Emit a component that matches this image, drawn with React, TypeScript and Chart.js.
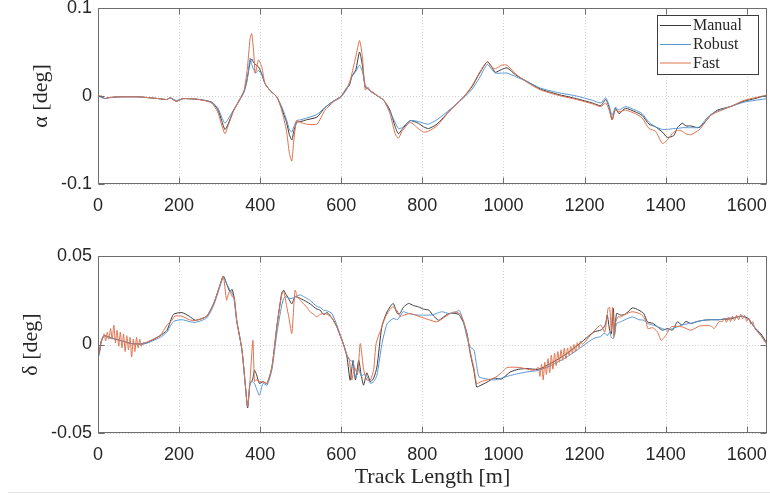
import React, { useEffect, useRef } from "react";
import { Chart, registerables } from "chart.js";
Chart.register(...registerables);

const SERIES_LABELS = ["Manual", "Robust", "Fast"];
const SERIES_COLORS = ["#3a3a3a", "#5696d6", "#e0704c"];
const X_TICKS = [0, 200, 400, 600, 800, 1000, 1200, 1400, 1600];
const ALPHA_TICKS = [-0.1, 0, 0.1];
const DELTA_TICKS = [-0.05, 0, 0.05];
const X_TITLE = "Track Length [m]";
const ALPHA_TITLE = "α [deg]";
const DELTA_TITLE = "δ [deg]";

// ---- top panel: alpha ----
const ALPHA_X = [
  0, 10, 17, 25, 50, 100, 150, 170, 178, 193,
  210, 250, 280, 295, 305, 313, 320, 334, 350, 360,
  368, 375, 379, 384, 388, 396, 404, 412, 425, 441,
  453, 465, 472, 478, 483, 490, 500, 515, 540, 560,
  580, 598, 614, 620, 626, 636, 645, 652, 659, 666,
  672, 690, 705, 720, 733, 741, 750, 770, 790, 803,
  815, 836, 869, 902, 923, 940, 960, 970, 980, 995,
  1009, 1030, 1060, 1091, 1133, 1180, 1220, 1240, 1252, 1260,
  1268, 1276, 1285, 1301, 1325, 1342, 1359, 1375, 1392, 1404,
  1420, 1429, 1441, 1450, 1462, 1478, 1486, 1500, 1511, 1528,
  1560, 1593, 1620, 1650,
];
const ALPHA_MANUAL = [
  0, -0.001, -0.003, -0.002, -0.001, -0.001, -0.003, -0.004, -0.002, -0.006,
  -0.003, -0.004, -0.007, -0.015, -0.028, -0.038, -0.033, -0.017, -0.004, 0.005,
  0.02, 0.038, 0.042, 0.038, 0.036, 0.033, 0.025, 0.014, 0.006, -0.001,
  -0.014, -0.03, -0.044, -0.05, -0.04, -0.03, -0.029, -0.027, -0.024, -0.013,
  -0.006, -0.001, 0.009, 0.012, 0.022, 0.03, 0.05, 0.035, 0.01, 0.008,
  0.006, 0.0, -0.005, -0.016, -0.035, -0.043, -0.038, -0.028, -0.031, -0.035,
  -0.037, -0.032, -0.016, -0.001, 0.011, 0.025, 0.039, 0.034, 0.027, 0.03,
  0.032, 0.024, 0.016, 0.008, 0.002, -0.003, -0.008, -0.011, -0.004, -0.012,
  -0.027, -0.014, -0.02, -0.014, -0.018, -0.022, -0.032, -0.035, -0.041, -0.047,
  -0.045, -0.036, -0.031, -0.034, -0.034, -0.036, -0.035, -0.028, -0.022, -0.016,
  -0.012, -0.006, -0.003, 0.001,
];
const ALPHA_ROBUST = [
  0, -0.002, -0.003, -0.002, -0.001, -0.001, -0.003, -0.004, -0.002, -0.005,
  -0.003, -0.004, -0.007, -0.013, -0.024, -0.031, -0.027, -0.016, -0.004, 0.004,
  0.018, 0.043, 0.036, 0.03, 0.026, 0.029, 0.024, 0.014, 0.006, -0.001,
  -0.012, -0.027, -0.038, -0.041, -0.035, -0.028, -0.027, -0.025, -0.021, -0.013,
  -0.006, -0.002, 0.008, 0.015, 0.022, 0.028, 0.035, 0.028, 0.013, 0.008,
  0.005, 0.0, -0.005, -0.018, -0.03, -0.037, -0.036, -0.028, -0.029, -0.031,
  -0.032, -0.027, -0.015, -0.002, 0.008, 0.02, 0.036, 0.031, 0.026, 0.026,
  0.026, 0.022, 0.016, 0.009, 0.004, 0.0, -0.005, -0.008, -0.002, -0.01,
  -0.022, -0.013, -0.016, -0.012, -0.016, -0.02, -0.03, -0.035, -0.038, -0.038,
  -0.037, -0.037, -0.036, -0.036, -0.036, -0.036, -0.034, -0.026, -0.021, -0.017,
  -0.012, -0.007, -0.005, -0.003,
];
const ALPHA_FAST = [
  0, 0.0, -0.003, -0.002, -0.001, -0.001, -0.003, -0.004, -0.002, -0.006,
  -0.003, -0.004, -0.008, -0.018, -0.033, -0.043, -0.035, -0.017, -0.003, 0.006,
  0.03, 0.065, 0.071, 0.05, 0.026, 0.041, 0.033, 0.014, 0.006, -0.001,
  -0.016, -0.04, -0.065, -0.074, -0.05, -0.028, -0.03, -0.032, -0.032, -0.016,
  -0.007, -0.001, 0.01, 0.014, 0.025, 0.045, 0.063, 0.045, 0.007, 0.01,
  0.006, 0.0, -0.005, -0.02, -0.043, -0.048, -0.04, -0.03, -0.037, -0.041,
  -0.04, -0.034, -0.016, -0.001, 0.012, 0.026, 0.039, 0.033, 0.031, 0.035,
  0.035, 0.025, 0.015, 0.007, 0.001, -0.004, -0.009, -0.012, -0.008, -0.015,
  -0.027, -0.016, -0.018, -0.016, -0.02, -0.025, -0.037, -0.04, -0.054, -0.05,
  -0.041, -0.039, -0.04, -0.043, -0.044, -0.04, -0.037, -0.028, -0.022, -0.018,
  -0.012, -0.005, -0.002, 0.001,
];

// ---- bottom panel: delta ----
const DELTA_X = [
  0, 3, 8, 15, 27, 52, 83, 116, 153, 170,
  186, 207, 225, 240, 268, 285, 300, 309, 317, 325,
  331, 336, 342, 355, 363, 369, 375, 381, 386, 391,
  398, 407, 417, 429, 441, 453, 458, 462, 470, 478,
  486, 499, 515, 523, 532, 540, 548, 556, 565, 577,
  589, 606, 614, 622, 629, 635, 643, 649, 655, 663,
  672, 680, 688, 700, 713, 728, 738, 745, 753, 766,
  778, 790, 803, 816, 828, 840, 849, 865, 881, 890,
  894, 902, 910, 918, 927, 934, 940, 960, 977, 995,
  1017, 1037, 1058, 1086, 1116, 1157, 1198, 1223, 1240, 1247,
  1252, 1256, 1262, 1266, 1271, 1274, 1279, 1289, 1300, 1318,
  1334, 1346, 1355, 1368, 1380, 1392, 1405, 1417, 1429, 1440,
  1450, 1462, 1478, 1494, 1510, 1530, 1560, 1577, 1590, 1605,
  1618, 1635, 1650,
];
const DELTA_MANUAL = [
  -0.006, -0.004, 0.002, 0.005, 0.004, 0.0025, 0.0005, 0.0005, 0.005, 0.008,
  0.017, 0.018, 0.016, 0.0137, 0.016, 0.023, 0.033, 0.0387, 0.0345, 0.03,
  0.031, 0.026, 0.0137, -0.003, -0.022, -0.0359, -0.022, -0.02, -0.0146, -0.017,
  -0.022, -0.021, -0.022, -0.0127, 0.01, 0.0289, 0.0307, 0.029, 0.026, 0.023,
  0.027, 0.026, 0.0241, 0.023, 0.0213, 0.02, 0.0194, 0.017, 0.018, 0.015,
  0.01, -0.0004, -0.007, -0.0202, -0.009, -0.02, -0.009, -0.017, -0.023, -0.016,
  -0.021, -0.019, -0.0127, 0.01, 0.0185, 0.0232, 0.0175, 0.0175, 0.021, 0.0232,
  0.022, 0.0213, 0.02, 0.0194, 0.016, 0.0137, 0.015, 0.0175, 0.0175, 0.017,
  0.0156, 0.012, 0.0062, -0.005, -0.0146, -0.024, -0.0235, -0.0212, -0.019, -0.0195,
  -0.0155, -0.014, -0.0136, -0.014, -0.0108, -0.005, 0.0024, 0.0071, 0.0081, 0.0095,
  0.0119, 0.0166, 0.008, 0.006, 0.0204, 0.0053, 0.0175, 0.0166, 0.017, 0.0207,
  0.0194, 0.0175, 0.0128, 0.012, 0.01, 0.0081, 0.009, 0.0081, 0.0128, 0.011,
  0.013, 0.0119, 0.013, 0.0137, 0.014, 0.014, 0.0145, 0.0156, 0.016, 0.0145,
  0.01, 0.006, 0.0006,
];
const DELTA_ROBUST = [
  -0.007, -0.006, 0.001, 0.005, 0.004, 0.0025, 0.0005, 0.0005, 0.004, 0.007,
  0.013, 0.014, 0.013, 0.0125, 0.015, 0.022, 0.032, 0.038, 0.0345, 0.031,
  0.029, 0.025, 0.0137, -0.003, -0.022, -0.035, -0.022, -0.021, -0.022, -0.025,
  -0.0287, -0.022, -0.023, -0.014, 0.006, 0.022, 0.026, 0.027, 0.0262, 0.026,
  0.027, 0.028, 0.026, 0.025, 0.023, 0.0215, 0.021, 0.0194, 0.019, 0.0175,
  0.011, 0.0, -0.006, -0.009, -0.0098, -0.019, -0.0136, -0.018, -0.017, -0.018,
  -0.0219, -0.021, -0.0174, 0.0, 0.0117, 0.0147, 0.014, 0.016, 0.0185, 0.0175,
  0.017, 0.0166, 0.0166, 0.0166, 0.017, 0.018, 0.0185, 0.0175, 0.018, 0.0194,
  0.018, 0.012, 0.004, -0.0015, -0.003, -0.012, -0.0183, -0.0195, -0.02, -0.019,
  -0.0175, -0.0164, -0.0155, -0.0146, -0.012, -0.007, -0.0005, 0.0035, 0.0045, 0.0062,
  0.006, 0.005, 0.007, 0.004, 0.0033, 0.006, 0.0119, 0.0128, 0.014, 0.0156,
  0.014, 0.0137, 0.012, 0.011, 0.01, 0.009, 0.0081, 0.009, 0.01, 0.011,
  0.0115, 0.0119, 0.013, 0.0137, 0.014, 0.014, 0.015, 0.0156, 0.016, 0.014,
  0.01, 0.005, 0.0,
];
const DELTA_FAST_X = [
  0, 3, 8, 12, 15, 19, 23, 27, 31, 35,
  39, 43, 47, 51, 55, 59, 63, 67, 71, 75,
  79, 83, 87, 91, 95, 99, 103, 107, 111, 116,
  153, 170, 180, 190, 207, 225, 240, 268, 285, 300,
  309, 317, 321, 325, 331, 336, 342, 355, 363, 369,
  375, 382, 386, 391, 398, 407, 417, 429, 441, 453,
  458, 465, 471, 478, 486, 492, 499, 515, 523, 532,
  540, 548, 556, 565, 577, 589, 606, 614, 620, 626,
  633, 640, 647, 655, 663, 672, 680, 686, 700, 709,
  726, 738, 745, 753, 770, 795, 816, 836, 852, 869,
  881, 894, 902, 910, 918, 927, 934, 945, 960, 977,
  995, 1009, 1040, 1075, 1086, 1090, 1094, 1098, 1102, 1106,
  1110, 1114, 1118, 1122, 1126, 1130, 1134, 1138, 1142, 1146,
  1150, 1154, 1158, 1162, 1166, 1170, 1174, 1178, 1182, 1186,
  1190, 1195, 1210, 1225, 1240, 1250, 1258, 1262, 1266, 1269,
  1272, 1276, 1282, 1289, 1300, 1318, 1340, 1352, 1356, 1368,
  1380, 1389, 1400, 1414, 1440, 1462, 1485, 1511, 1520, 1531,
  1540, 1545, 1550, 1555, 1560, 1565, 1570, 1575, 1580, 1585,
  1590, 1595, 1600, 1605, 1610, 1615, 1620, 1635, 1650,
];
const DELTA_FAST = [
  -0.006, -0.005, 0.002, 0.004, 0.006, 0.002, 0.007, 0.003, 0.009, 0.003,
  0.011, 0.001, 0.008, -0.001, 0.007, -0.002, 0.006, -0.004, 0.005, -0.003,
  0.004, -0.007, 0.003, -0.004, 0.004, -0.002, 0.003, -0.001, 0.001, 0.001,
  0.005, 0.011, 0.013, 0.016, 0.016, 0.014, 0.0135, 0.016, 0.023, 0.033,
  0.0385, 0.025, 0.028, 0.03, 0.027, 0.027, 0.0137, -0.003, -0.022, -0.035,
  -0.02, 0.0024, -0.021, -0.02, -0.021, -0.021, -0.022, -0.0127, 0.01, 0.028,
  0.03, 0.022, 0.015, 0.0062, 0.0307, 0.027, 0.025, 0.021, 0.0185, 0.017,
  0.0156, 0.017, 0.0175, 0.017, 0.015, 0.01, -0.0004, -0.006, -0.009, -0.02,
  -0.013, -0.017, 0.0006, -0.014, -0.02, -0.02, -0.014, 0.0006, 0.01, 0.0156,
  0.0213, 0.019, 0.0158, 0.0165, 0.0175, 0.0156, 0.014, 0.0128, 0.015, 0.0175,
  0.0185, 0.017, 0.013, 0.006, -0.004, -0.013, -0.022, -0.021, -0.02, -0.019,
  -0.016, -0.013, -0.013, -0.0146, -0.013, -0.018, -0.011, -0.02, -0.01, -0.017,
  -0.008, -0.016, -0.006, -0.014, -0.005, -0.012, -0.004, -0.01, -0.003, -0.009,
  -0.002, -0.008, -0.002, -0.006, -0.001, -0.005, 0.0, -0.004, 0.001, -0.002,
  0.002, 0.0, 0.004, 0.008, 0.011, 0.007, 0.0204, 0.021, 0.008, 0.021,
  0.004, 0.012, 0.0155, 0.0156, 0.017, 0.0185, 0.017, 0.013, 0.009, 0.0095,
  0.0071, 0.0024, 0.005, 0.01, 0.01, 0.0081, 0.0105, 0.0105, 0.009, 0.0128,
  0.013, 0.015, 0.0125, 0.0155, 0.013, 0.016, 0.0135, 0.0165, 0.014, 0.017,
  0.0145, 0.0165, 0.013, 0.015, 0.0115, 0.013, 0.009, 0.005, 0.0,
];

const TICK_FONT = { family: "'Liberation Sans', Arial, sans-serif", size: 18 };
const SERIF = "'Liberation Serif', 'Times New Roman', serif";
const TEXT_COLOR = "#262626";

const zip = (xs: number[], ys: number[]) => xs.map((x, i) => ({ x, y: ys[i] }));
const fmt = (v: number) => String(Number(Number(v).toFixed(4)));

const matlabAxes = {
  id: "matlabAxes",
  beforeDatasetsDraw(chart: any) {
    const { ctx, chartArea: a, scales } = chart;
    const x = scales.x, y = scales.y;
    ctx.save();
    ctx.strokeStyle = "#d2d2d2";
    ctx.lineWidth = 1;
    ctx.setLineDash([1, 2]);
    x.ticks.forEach((t: any) => {
      const px = Math.round(x.getPixelForValue(t.value)) + 0.5;
      ctx.beginPath(); ctx.moveTo(px, a.top); ctx.lineTo(px, a.bottom); ctx.stroke();
    });
    y.ticks.forEach((t: any) => {
      const py = Math.round(y.getPixelForValue(t.value)) + 0.5;
      ctx.beginPath(); ctx.moveTo(a.left, py); ctx.lineTo(a.right, py); ctx.stroke();
    });
    ctx.restore();
  },
  afterDatasetsDraw(chart: any, _a: any, opts: any) {
    const { ctx, chartArea: a, scales } = chart;
    const x = scales.x, y = scales.y;
    ctx.save();
    ctx.setLineDash([]);
    ctx.strokeStyle = "#6e6e6e";
    ctx.lineWidth = 1;
    const L = Math.round(a.left) + 0.5, R = Math.round(a.right) - 0.5;
    const T = Math.round(a.top) + 0.5, B = Math.round(a.bottom) - 0.5;
    ctx.strokeRect(L, T, R - L, B - T);
    const tl = 6;
    x.ticks.forEach((t: any) => {
      const px = Math.round(x.getPixelForValue(t.value)) + 0.5;
      ctx.beginPath();
      ctx.moveTo(px, B); ctx.lineTo(px, B - tl);
      ctx.moveTo(px, T); ctx.lineTo(px, T + tl);
      ctx.stroke();
    });
    y.ticks.forEach((t: any) => {
      const py = Math.round(y.getPixelForValue(t.value)) + 0.5;
      ctx.beginPath();
      ctx.moveTo(L, py); ctx.lineTo(L + tl, py);
      ctx.moveTo(R, py); ctx.lineTo(R - tl, py);
      ctx.stroke();
    });
    ctx.fillStyle = TEXT_COLOR;
    ctx.font = `22px ${SERIF}`;
    ctx.textAlign = "center";
    ctx.textBaseline = "middle";
    ctx.save();
    ctx.translate(opts.yTitleX, (a.top + a.bottom) / 2);
    ctx.rotate(-Math.PI / 2);
    ctx.fillText(opts.yTitle, 0, 0);
    ctx.restore();
    if (opts.xTitle) {
      ctx.fillText(opts.xTitle, (a.left + a.right) / 2, opts.xTitleY);
    }
    if (opts.legend) {
      const bx = 657.5, by = 15.5, bw = 101, bh = 59;
      ctx.fillStyle = "#ffffff";
      ctx.fillRect(bx, by, bw, bh);
      ctx.strokeStyle = "#3c3c3c";
      ctx.strokeRect(bx, by, bw, bh);
      const rows = [25, 44, 62.5];
      chart.data.datasets
        .slice()
        .sort((p: any, q: any) => p.legendIndex - q.legendIndex)
        .forEach((ds: any, i: number) => {
          ctx.strokeStyle = ds.borderColor;
          ctx.lineWidth = 1;
          ctx.beginPath();
          ctx.moveTo(660, rows[i] + 0.5);
          ctx.lineTo(691, rows[i] + 0.5);
          ctx.stroke();
          ctx.fillStyle = TEXT_COLOR;
          ctx.font = `16px ${SERIF}`;
          ctx.textAlign = "left";
          ctx.textBaseline = "middle";
          ctx.fillText(ds.label, 693, rows[i] + 1);
        });
    }
    ctx.restore();
  },
};

function makeConfig(
  series: { x: number[]; y: number[] }[],
  yTicks: number[],
  padTop: number,
  xAxisH: number,
  pluginOpts: any
): any {
  return {
    type: "line",
    data: {
      datasets: series.map((s, i) => ({
        label: SERIES_LABELS[i],
        legendIndex: i,
        data: zip(s.x, s.y),
        borderColor: SERIES_COLORS[i],
        borderWidth: 1,
        pointRadius: 0,
        tension: 0.2,
        fill: false,
        order: 3 - i,
      })),
    },
    options: {
      animation: false,
      responsive: false,
      devicePixelRatio: 1,
      layout: { padding: { top: padTop, right: 3, left: 0, bottom: 0 } },
      plugins: {
        legend: { display: false },
        tooltip: { enabled: false },
        matlabAxes: pluginOpts,
      },
      scales: {
        x: {
          type: "linear",
          min: 0,
          max: 1650,
          grid: { display: false, drawTicks: false },
          border: { display: false },
          ticks: {
            font: TICK_FONT, color: TEXT_COLOR, padding: 11, maxRotation: 0, autoSkip: false,
            callback: (v: number) => fmt(v),
          },
          afterBuildTicks: (s: any) => { s.ticks = X_TICKS.map((value) => ({ value })); },
          afterFit: (s: any) => { s.height = xAxisH; s.paddingLeft = 0; s.paddingRight = 0; },
        },
        y: {
          type: "linear",
          min: yTicks[0],
          max: yTicks[yTicks.length - 1],
          grid: { display: false, drawTicks: false },
          border: { display: false },
          ticks: { font: TICK_FONT, color: TEXT_COLOR, padding: 6, callback: (v: number) => fmt(v) },
          afterBuildTicks: (s: any) => { s.ticks = yTicks.map((value) => ({ value })); },
          afterFit: (s: any) => { s.width = 98; s.paddingTop = 0; s.paddingBottom = 0; },
        },
      },
    },
    plugins: [matlabAxes],
  };
}

export default function App() {
  const topRef = useRef<HTMLCanvasElement | null>(null);
  const botRef = useRef<HTMLCanvasElement | null>(null);

  useEffect(() => {
    const c1 = new Chart(
      topRef.current as HTMLCanvasElement,
      makeConfig(
        [
          { x: ALPHA_X, y: ALPHA_MANUAL },
          { x: ALPHA_X, y: ALPHA_ROBUST },
          { x: ALPHA_X, y: ALPHA_FAST },
        ],
        ALPHA_TICKS,
        8,
        56,
        { yTitle: ALPHA_TITLE, yTitleX: 41, legend: true }
      )
    );
    const c2 = new Chart(
      botRef.current as HTMLCanvasElement,
      makeConfig(
        [
          { x: DELTA_X, y: DELTA_MANUAL },
          { x: DELTA_X, y: DELTA_ROBUST },
          { x: DELTA_FAST_X, y: DELTA_FAST },
        ],
        DELTA_TICKS,
        16,
        62,
        { yTitle: DELTA_TITLE, yTitleX: 31, xTitle: X_TITLE, xTitleY: 237 }
      )
    );
    return () => {
      c1.destroy();
      c2.destroy();
    };
  }, []);

  return (
    <div style={{ position: "fixed", left: 0, top: 0, width: 770, height: 495, background: "#fff" }}>
      <canvas ref={topRef} width={770} height={240} style={{ position: "absolute", left: 0, top: 0, width: 770, height: 240 }} />
      <canvas ref={botRef} width={770} height={255} style={{ position: "absolute", left: 0, top: 240, width: 770, height: 255 }} />
      <div style={{ position: "absolute", left: 8, top: 492, width: 762, height: 1, background: "#e4e4e4" }} />
    </div>
  );
}
